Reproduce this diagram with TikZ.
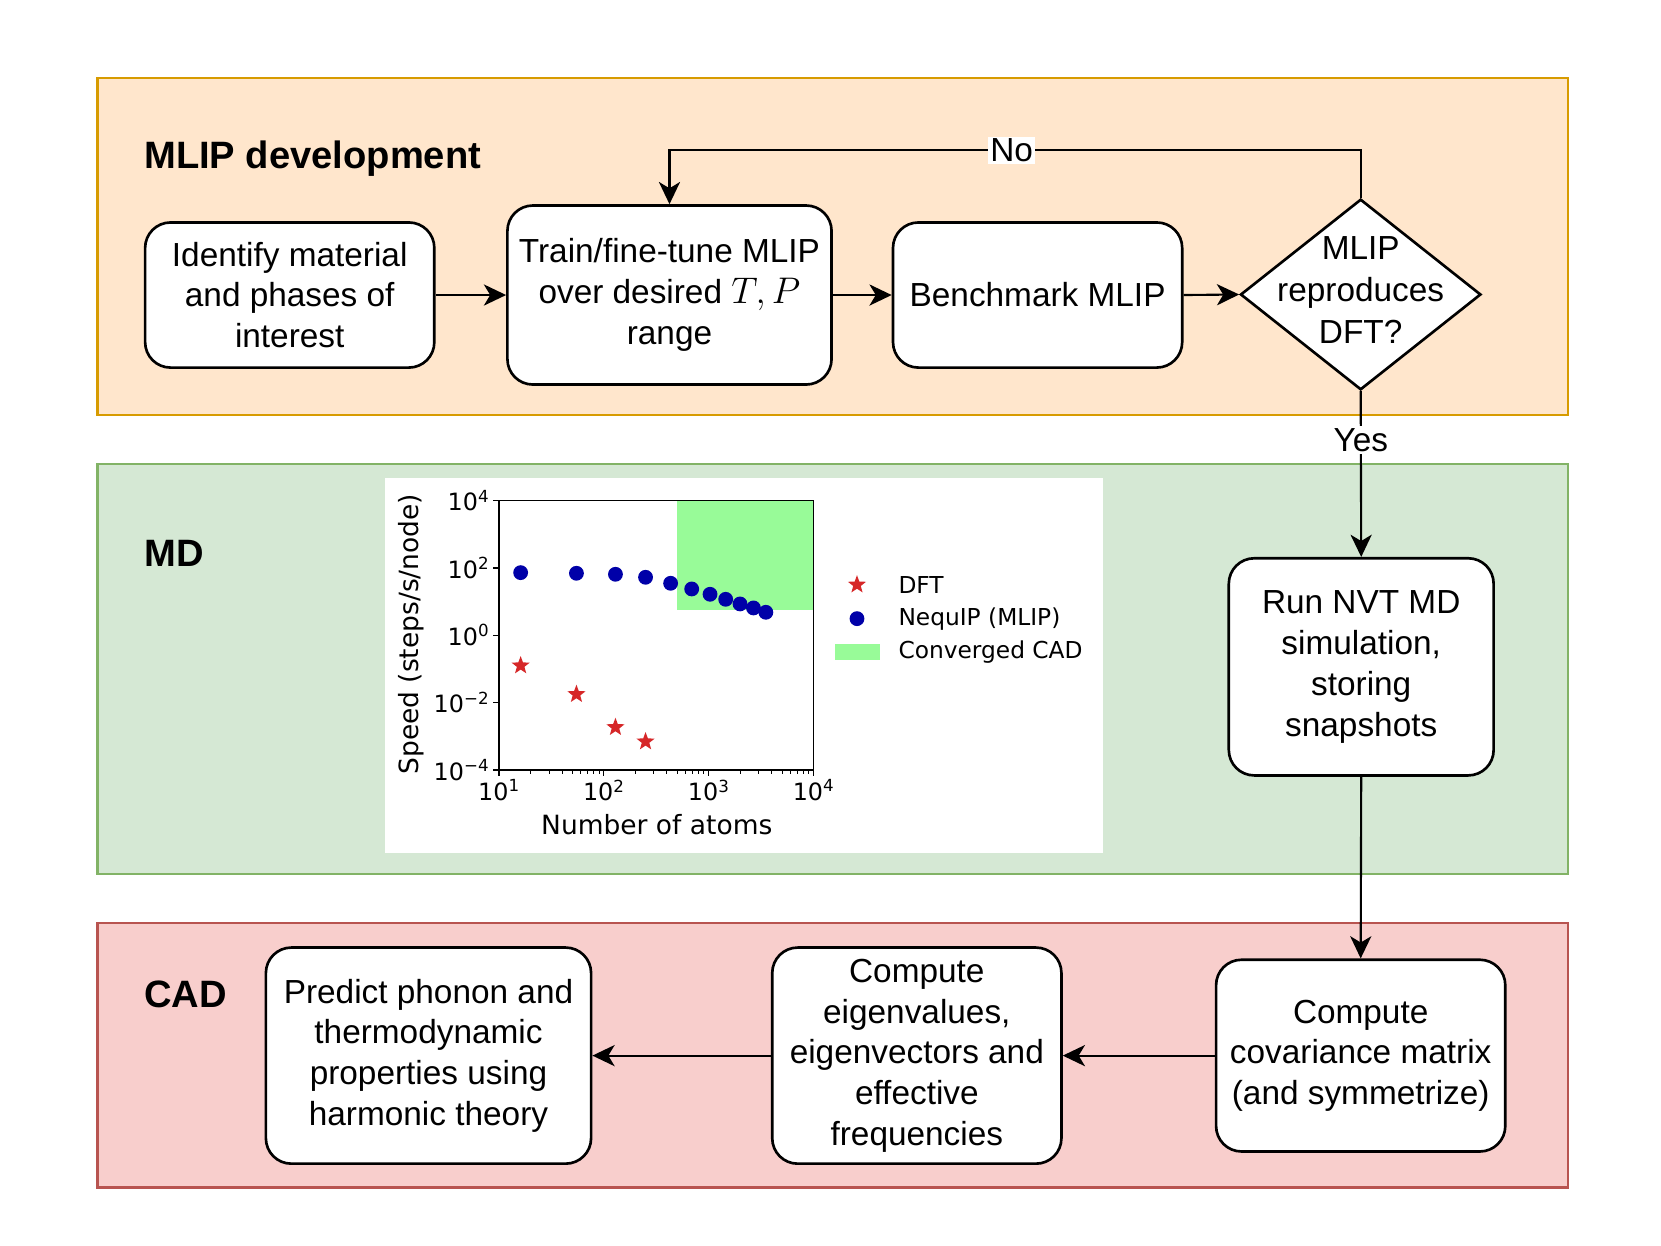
\RequirePackage{fix-cm}
\documentclass[tikz,border=0pt]{standalone}
\usepackage{fontspec}
\setmainfont{Liberation Sans}
\newfontfamily\djv{DejaVu Sans}
\usetikzlibrary{arrows.meta,shapes.geometric}
\definecolor{orf}{HTML}{FFE6CC}\definecolor{ord}{HTML}{D79B00}
\definecolor{grf}{HTML}{D5E8D4}\definecolor{grd}{HTML}{82B366}
\definecolor{rdf}{HTML}{F8CECC}\definecolor{rdd}{HTML}{B85450}
\definecolor{pgreen}{HTML}{98FB98}
\definecolor{dotblue}{HTML}{0000A8}
\definecolor{starred}{HTML}{D62728}
\newcommand\tk[1]{10\textsuperscript{#1}}
\begin{document}
\begin{tikzpicture}[x=1pt,y=-1pt,
  band/.style={line width=2pt},
  title/.style={anchor=base west,font=\fontsize{36}{40}\selectfont\bfseries,inner sep=0pt},
  box/.style={draw,line width=2.5pt,rounded corners=24pt,fill=white,align=center,
    font=\fontsize{31.5}{38.5}\selectfont,inner sep=0pt},
  txt/.style={align=center,font=\fontsize{31.5}{39.5}\selectfont,inner sep=0pt},
  arr/.style={line width=2pt,-{Stealth[length=21pt,width=20pt,inset=6pt]}},
  lbl/.style={fill=white,font=\fontsize{31.5}{38.5}\selectfont,inner sep=2pt},
  tick/.style={font=\djv\fontsize{22.5}{26}\selectfont,inner sep=0pt},
  leg/.style={font=\djv\fontsize{22}{26}\selectfont,inner sep=0pt,anchor=west},
  axl/.style={font=\djv\fontsize{25}{30}\selectfont,inner sep=0pt},
  starmk/.style={star,star points=5,star point ratio=2.4,fill=starred,inner sep=0pt,minimum size=18pt}
]
\useasboundingbox[fill=white] (0,0) rectangle (1568,1176);
% bands
\draw[band,draw=ord,fill=orf] (92,74) rectangle (1480,392);
\draw[band,draw=grd,fill=grf] (92,438) rectangle (1480,825);
\draw[band,draw=rdd,fill=rdf] (92,871) rectangle (1480,1121);
\node[title] (t1) at (136,159) {MLIP development};
\node[title] (t2) at (136,535) {MD};
\node[title] (t3) at (136,951) {CAD};
% top row
\node[box,minimum width=273pt,minimum height=137pt] (ident) at (273.5,278.5) {Identify material\\and phases of\\interest};
\node[box,minimum width=306pt,minimum height=169pt] (train) at (632,278.5) {Train/fine-tune MLIP\\over desired {\fontsize{35}{38.5}\selectfont$T,P$}\\range};
\node[box,minimum width=273pt,minimum height=137pt] (bench) at (979.5,278.5) {Benchmark MLIP};
\node[diamond,draw,line width=2.5pt,fill=white,inner sep=0pt,minimum width=227pt,minimum height=180pt] (dia) at (1284.5,278) {};
\node[txt] (diat) at ([yshift=4pt]dia.center) {MLIP\\reproduces\\DFT?};
% MD
\node[box,minimum width=250pt,minimum height=205pt] (run) at (1285,629.5) {Run NVT MD\\simulation,\\storing\\snapshots};
% CAD
\node[box,minimum width=273pt,minimum height=181pt] (cov) at (1284.5,996.5) {Compute\\covariance matrix\\(and symmetrize)};
\node[box,minimum width=273pt,minimum height=204pt] (eig) at (865.5,996.5) {Compute\\eigenvalues,\\eigenvectors and\\effective\\frequencies};
\node[box,minimum width=307pt,minimum height=204pt] (pred) at (404.5,996.5) {Predict phonon and\\thermodynamic\\properties using\\harmonic theory};
% connectors
\draw[arr] (ident.east) -- (train.west);
\draw[arr] (train.east) -- (bench.west);
\draw[arr] (bench.east) -- (dia.west);
\coordinate (nocorner) at (1284.5,142);
\draw[arr] (dia.north) -- (nocorner) -| node[lbl,pos=0.2525] (no) {No} (train.north);
\draw[arr] (dia.south) -- node[lbl,pos=0.296] (yes) {Yes} (run.north);
\draw[arr] (run.south) -- (cov.north);
\draw[arr] (cov.west) -- (eig.east);
\draw[arr] (eig.west) -- (pred.east);
% plot
\fill[white] (363,451) rectangle (1041,805);
\begin{scope}[shift={(471,726.8)},x=99pt,y=31.775pt]
  \fill[pgreen] (1.70,4.755) rectangle (3,8);
  \draw[line width=1.2pt] (0,0) rectangle (3,8);
  \foreach \yy/\lab in {0/{\tk{−4}},2/{\tk{−2}},4/{\tk{0}},6/{\tk{2}},8/{\tk{4}}}{
    \draw[line width=1.2pt] (0,\yy) -- ++(-6pt,0);
    \node[tick,anchor=east] at ([xshift=-9pt]0,\yy) {\lab};
  }
  \foreach \xx/\lab in {0/{\tk{1}},1/{\tk{2}},2/{\tk{3}},3/{\tk{4}}}{
    \draw[line width=1.2pt] (\xx,0) -- ++(0,-6pt);
    \node[tick,anchor=north] at ([yshift=-9pt]\xx,0) {\lab};
  }
  \foreach \n in {0,1,2}{
    \foreach \m in {0.30103,0.47712,0.60206,0.69897,0.77815,0.84510,0.90309,0.95424}{
      \draw[line width=0.9pt] (\n+\m,0) -- ++(0,-3.5pt);
    }
  }
  \foreach \a/\b in {1.207/1.861,1.739/1.842,2.111/1.812,2.398/1.723,2.637/1.545,2.838/1.376,3.013/1.218,3.162/1.069,3.299/0.931,3.427/0.812,3.545/0.683}{
    \fill[dotblue] (\a-1,\b+4) circle[radius=7pt];
  }
  \foreach \a/\b in {1.207/-0.901,1.739/-1.752,2.111/-2.733,2.398/-3.158}{
    \node[starmk] at (\a-1,\b+4) {};
  }
\end{scope}
\node[axl] (xl) at (620,778) {Number of atoms};
\node[axl,rotate=90] (yl) at (388.5,598.6) {Speed (steps/s/node)};
\node[starmk] (lg1) at (809,552) {};
\fill[dotblue] (809,584) circle[radius=7pt];
\fill[pgreen] (788,608) rectangle (831,623);
\node[leg] (l1) at (848,552) {DFT};
\node[leg] (l2) at (848,584) {NequIP (MLIP)};
\node[leg] (l3) at (848,615.5) {Converged CAD};
\end{tikzpicture}
\end{document}
